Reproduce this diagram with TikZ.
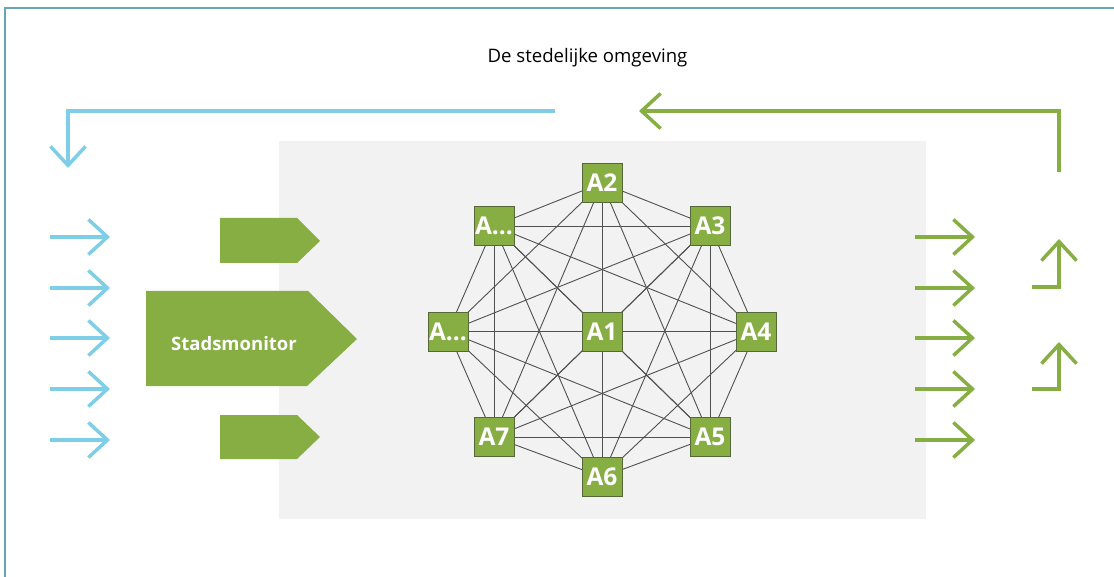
\documentclass[tikz,border=0pt]{standalone}
\usepackage{fontspec}
\setmainfont{Open Sans}
\usepackage{xcolor}
\usepackage{tikz}
\usetikzlibrary{arrows.meta}
\usetikzlibrary{positioning}

\definecolor{citygreen}{HTML}{86AE42}
\definecolor{cityblue}{HTML}{7ECEE8}
\definecolor{frameteal}{HTML}{66A6B5}
\definecolor{agentedge}{HTML}{56683A}
\definecolor{linkgray}{HTML}{505050}
\definecolor{panelgray}{HTML}{F2F2F2}

\pgfdeclarelayer{background}
\pgfdeclarelayer{edges}
\pgfsetlayers{background,edges,main}

\tikzset{
  agent/.style={draw=agentedge, line width=0.8pt, fill=citygreen, text=white,
    font=\bfseries\fontsize{24.5}{24.5}\selectfont,
    minimum width=40pt, minimum height=39pt, inner sep=0pt},
  link/.style={draw=linkgray, line width=0.9pt},
  flowin/.style={draw=cityblue, line width=3.5pt,
    -{Straight Barb[length=19pt,width=35pt]}},
  flowout/.style={draw=citygreen, line width=3.5pt,
    -{Straight Barb[length=19pt,width=35pt]}},
}

\begin{document}
\begin{tikzpicture}[x=1pt, y=-1pt]

    \useasboundingbox (0, 0) rectangle (1114, 577);
    \draw[frameteal, line width=2pt] (5, 577) -- (5, 8.5) -- (1114, 8.5);

    \begin{pgfonlayer}{background}
      \fill[panelgray] (279, 141) rectangle (926, 519);
    \end{pgfonlayer}

    \node (title) [anchor=base, font=\fontsize{18.6}{18.6}\selectfont] at (587.5, 63)
      {De stedelijke omgeving};

    \node[agent] (a1) at (602, 331.5) {A1};
    \node[agent] (a2) at (602, 183) {A2};
    \node[agent] (a3) at (710, 226) {A3};
    \node[agent] (a4) at (756, 331.5) {A4};
    \node[agent] (a5) at (710, 437) {A5};
    \node[agent] (a6) at (602, 477) {A6};
    \node[agent] (a7) at (494, 437) {A7};
    \node[agent] (a8) at (448, 331.5) {A...};
    \node[agent] (a9) at (494, 226) {A...};

    \begin{pgfonlayer}{edges}
      \foreach \i in {1,...,8} {
        \pgfmathtruncatemacro{\k}{\i + 1}
        \foreach \j in {\k,...,9} {
          \draw[link] (a\i.center) -- (a\j.center);
        }
      }
    \end{pgfonlayer}

    \fill[citygreen] (146, 291) -- (308, 291) -- (357, 339)
      -- (307, 386) -- (146, 386) -- cycle;
    \node (monitor) [anchor=base, text=white,
      font=\bfseries\fontsize{18.5}{18.5}\selectfont] at (234, 351) {Stadsmonitor};
    \fill[citygreen] (220, 218) -- (297, 218) -- (320, 241)
      -- (297, 263) -- (220, 263) -- cycle;
    \fill[citygreen] (220, 415) -- (297, 415) -- (320, 437)
      -- (297, 459) -- (220, 459) -- cycle;

    \foreach \y in {237, 288, 338, 389, 440} {
      \draw[flowin] (50, \y) -- (110, \y);
      \draw[flowout] (915, \y) -- (975, \y);
    }

    \draw[flowin] (555, 111) -- (68, 111) -- (68, 168);
    \draw[flowout] (1059, 172) -- (1059, 111) -- (639, 111);
    \draw[flowout] (1032, 287) -- (1059, 287) -- (1059, 239);
    \draw[flowout] (1032, 389) -- (1059, 389) -- (1059, 342);

  \end{tikzpicture}
\end{document}
